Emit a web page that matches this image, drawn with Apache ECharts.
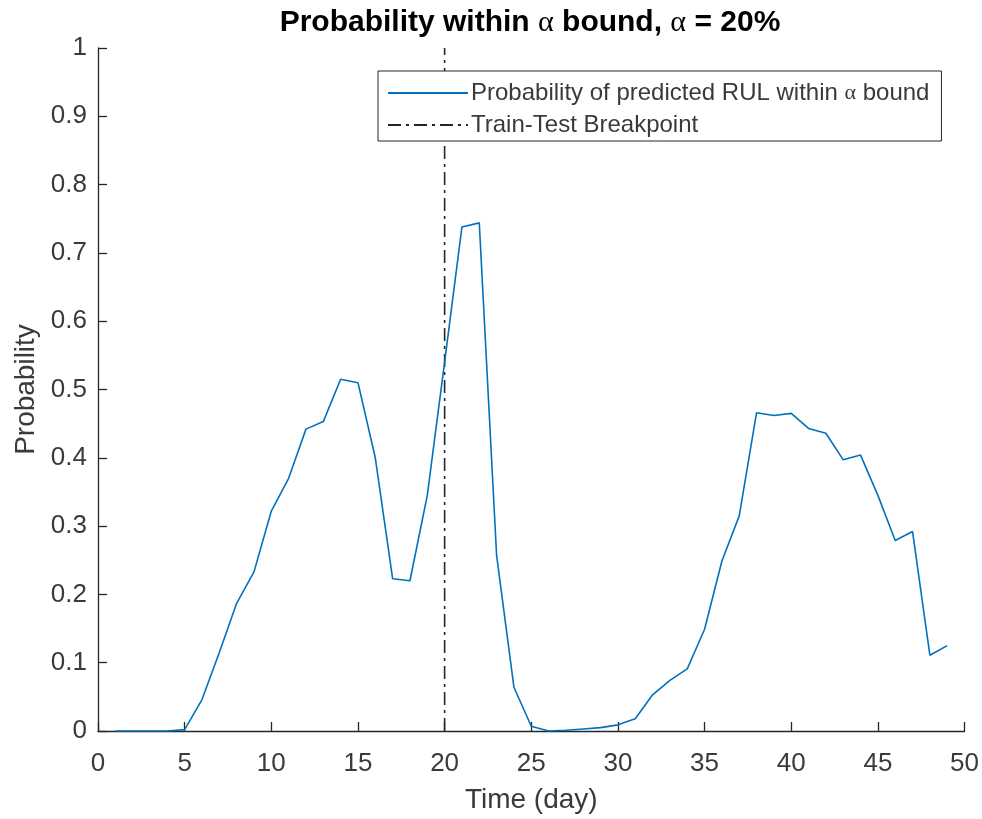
<!DOCTYPE html>
<html>
<head>
<meta charset="utf-8">
<script src="https://cdn.jsdelivr.net/npm/echarts@6/dist/echarts.min.js"></script>
<style>
  html, body { margin: 0; padding: 0; background: #ffffff; }
  #chart { width: 982px; height: 819px; }
</style>
</head>
<body>
<div id="chart"></div>
<script>
// ---- data ----
const days = [1,2,3,4,5,6,7,8,9,10,11,12,13,14,15,16,17,18,19,20,21,22,23,24,25,26,27,28,29,30,31,32,33,34,35,36,37,38,39,40,41,42,43,44,45,46,47,48,49];
const probability = [0,0,0,0,0.002,0.046,0.115,0.187,0.233,0.322,0.370,0.442,0.453,0.515,0.510,0.400,0.223,0.220,0.345,0.540,0.738,0.744,0.257,0.064,0.007,0.000,0.001,0.003,0.005,0.009,0.018,0.053,0.074,0.091,0.149,0.249,0.315,0.466,0.462,0.465,0.443,0.436,0.397,0.404,0.345,0.279,0.292,0.111,0.125];
const breakpointDay = 20;
const breakpointRange = [0, 1];
const xTicks = {min: 0, max: 50, interval: 5};
const yTicks = {min: 0, max: 1, interval: 0.1};
const seriesNames = ['Probability of predicted RUL within α bound', 'Train-Test Breakpoint'];
const titleText = 'Probability within α bound, α = 20%';
const xLabel = 'Time (day)';
const yLabel = 'Probability';

// ---- chart ----
const FONT = 'Liberation Sans, Arial, Helvetica, sans-serif';
const AX = '#262626';
const TXT = '#3a3a3a';
const withAlpha = s => s.replace(/α/g, '{a|α}');

const chart = echarts.init(document.getElementById('chart'), null, { renderer: 'canvas' });
const lineData = days.map((d, i) => [d, probability[i]]);
const bpData = breakpointRange.map(v => [breakpointDay, v]);

chart.setOption({
  animation: false,
  backgroundColor: '#ffffff',
  title: {
    text: withAlpha(titleText),
    left: 530, top: 8, padding: 0, textAlign: 'center',
    textStyle: { fontFamily: FONT, fontSize: 30, fontWeight: 'bold', color: '#000', rich: { a: { fontFamily: 'Liberation Serif, serif', fontSize: 30, fontWeight: 'normal', color: '#000' } } }
  },
  grid: { left: 98, right: 17, top: 48, bottom: 86, containLabel: false },
  legend: {
    orient: 'vertical', left: 378, top: 71,
    padding: [10, 12, 4, 9],
    itemWidth: 80, itemHeight: 14, itemGap: 8,
    backgroundColor: '#ffffff', borderColor: AX, borderWidth: 1,
    data: seriesNames,
    itemStyle: { color: 'rgba(0,0,0,0)', borderWidth: 0, opacity: 0 },
    formatter: n => withAlpha(n),
    textStyle: { fontFamily: FONT, fontSize: 24, color: TXT, lineHeight: 24, padding: [0, 0, 0, -2],
      rich: { a: { fontFamily: 'Liberation Serif, serif', fontSize: 22, color: TXT } } }
  },
  xAxis: {
    type: 'value', min: xTicks.min, max: xTicks.max, interval: xTicks.interval,
    name: xLabel, nameLocation: 'middle', nameGap: 55,
    nameTextStyle: { fontFamily: FONT, fontSize: 28, color: TXT },
    axisLine: { show: true, lineStyle: { color: AX, width: 1.3 } },
    axisTick: { show: true, inside: true, length: 9, lineStyle: { color: AX, width: 1.3 } },
    axisLabel: { fontFamily: FONT, fontSize: 26, color: TXT, margin: 20 },
    splitLine: { show: false }
  },
  yAxis: {
    type: 'value', min: yTicks.min, max: yTicks.max, interval: yTicks.interval,
    name: yLabel, nameLocation: 'middle', nameGap: 58,
    nameTextStyle: { fontFamily: FONT, fontSize: 28, color: TXT },
    axisLine: { show: true, lineStyle: { color: AX, width: 1.3 } },
    axisTick: { show: true, inside: true, length: 9, lineStyle: { color: AX, width: 1.3 } },
    axisLabel: { fontFamily: FONT, fontSize: 26, color: TXT, margin: 11, formatter: v => String(Math.round(v * 10) / 10) },
    splitLine: { show: false }
  },
  series: [
    {
      name: seriesNames[0], type: 'line', data: lineData, symbol: 'none',
      lineStyle: { color: '#0072BD', width: 1.6 }, itemStyle: { color: '#0072BD' }, z: 3
    },
    {
      name: seriesNames[1], type: 'line', data: bpData, symbol: 'none',
      lineStyle: { color: AX, width: 1.6, type: [13, 5, 3, 5] }, itemStyle: { color: AX }, z: 2
    }
  ]
});
</script>
</body>
</html>
